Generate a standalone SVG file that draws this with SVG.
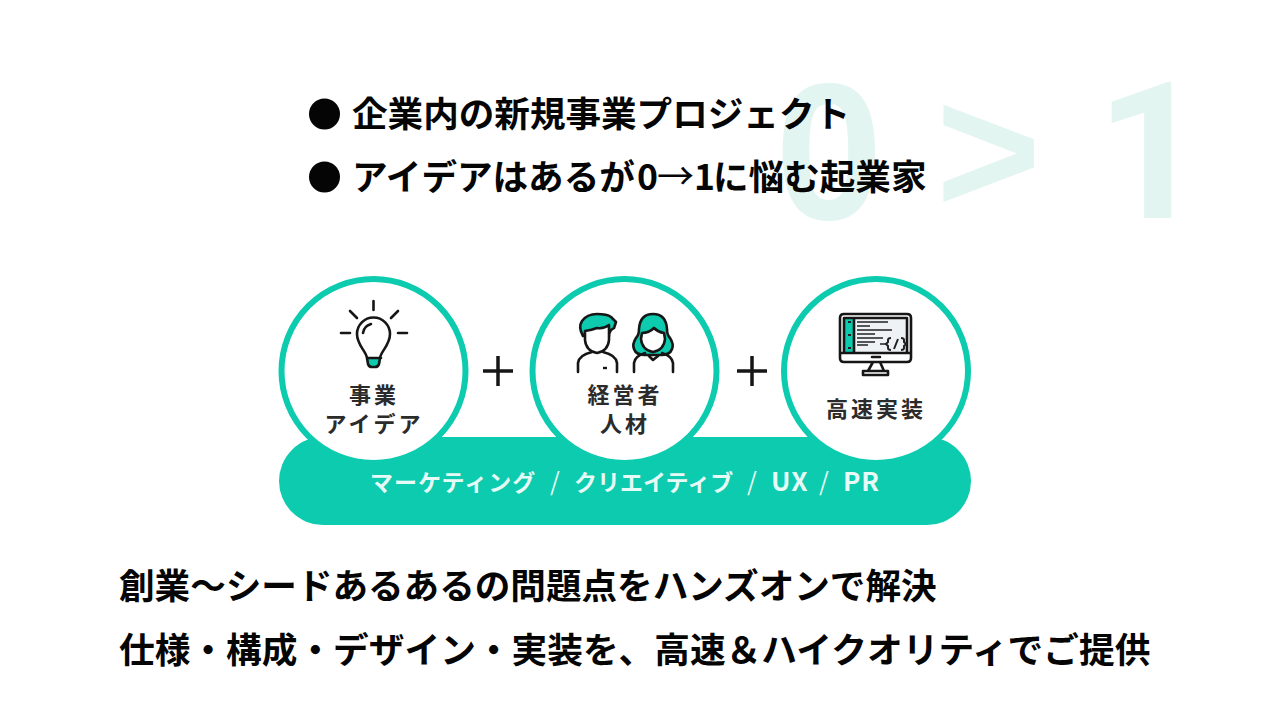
<svg xmlns="http://www.w3.org/2000/svg" width="1280" height="720" viewBox="0 0 1280 720">
<style>
text{font-family:"Noto Sans CJK JP","Noto Sans",sans-serif}
.h{font-size:35.600px;font-weight:700;fill:#050505}
.big{font-size:194px;font-weight:700;fill:#e3f5f1;font-family:"Liberation Sans",Arial,sans-serif}
.c{fill:#fff;stroke:#0ccbae;stroke-width:6}
.l{font-size:22px;font-weight:700;fill:#2b2b2b;text-anchor:middle;letter-spacing:3px}
.i{fill:none;stroke:#161616;stroke-width:2.600;stroke-linecap:round;stroke-linejoin:round}
.t{fill:#0ccbae}
.p{stroke:#161616;stroke-width:3.500;fill:none}
.b{font-size:23px;font-weight:700;fill:#e6faf6}
</style>
<rect width="1280" height="720" fill="#fff"/>
<g id="big"><text class="big" x="775" y="219">0</text><text class="big" x="936" y="213" style="font-size:180px">&gt;</text><text class="big" x="1096" y="218" style="font-family:Roboto,sans-serif;font-size:192px">1</text></g>
<g id="top-text">
<circle cx="324.500" cy="114" r="15.500" fill="#050505"/><circle cx="324.500" cy="177" r="15.500" fill="#050505"/>
<text class="h" x="352" y="127">企業内の新規事業プロジェクト</text>
<text class="h" x="352" y="190">アイデアはあるが<tspan x="637">0</tspan><tspan font-weight="400" font-size="37" x="657">→</tspan><tspan x="694">1</tspan><tspan x="713">に悩む起業家</tspan></text>
</g>
<g id="bar"><rect x="279" y="437" width="692" height="88" rx="44" class="t"/>
<text class="b" y="491"><tspan x="370" letter-spacing="1">マーケティング</tspan><tspan x="550" font-size="25" font-weight="400">/</tspan><tspan x="574" letter-spacing="0">クリエイティブ</tspan><tspan x="747" font-size="25" font-weight="400">/</tspan><tspan x="771" font-size="26" letter-spacing="1">UX</tspan><tspan x="819" font-size="25" font-weight="400">/</tspan><tspan x="843" font-size="26" letter-spacing="1">PR</tspan></text></g>
<g id="node-idea"><circle class="c" cx="373.500" cy="371" r="92"/>
<path class="t" d="M367 358h14l-1 6q-1 3-4 3h-4q-3 0-4-3z"/>
<path class="i" d="M367 358c-1-7-10-13-10-24a16.500 16.500 0 0 1 33 0c0 11-9 17-10 24l-1 6q-1 3-4 3h-3q-3 0-4-3zM367 358h14M363 333q1-7 8-9M373.500 301v9M350 311l7 7M398 311l-7 7M341 333h9M398 333h9"/>
<text class="l" x="374" y="403">事業</text><text class="l" x="374" y="432">アイデア</text></g>
<g id="node-people"><circle class="c" cx="624.500" cy="371" r="92"/>
<path class="t i" style="fill:#0ccbae" d="M583 336q-5-9-1-15 5-7 15-7 10 0 14 3l5 5-2 6-3 2-2 4v2h-24v-2z"/>
<path class="i" style="fill:#fff" d="M585 331q7-1 12-3 7 1 12-3v15q-1 11-12 13-11-2-12-13z"/>
<path class="i" d="M578 372v-9q1-8 14-11M617 372v-9q-1-8-14-11"/>
<path d="M603 368h4" stroke="#161616" stroke-width="2.400"/>
<path class="i" style="fill:#0ccbae" d="M653 314q-13 0-14 15 0 6-3 9-4 6-2 11 2 6 11 6h16q9 0 11-6 2-5-2-11-3-3-3-9-1-15-14-15z"/>
<path class="i" style="fill:#fff" d="M642 333q7 0 12-5 4 4 10 5l1 6q-1 11-12 13-11-2-12-13z"/>
<path class="i" d="M634 372v-9q1-7 11-10M673 372v-9q-1-7-11-10M649 356l4 4 5-4"/>
<text class="l" x="625" y="403">経営者</text><text class="l" x="625" y="432">人材</text></g>
<g id="node-code"><circle class="c" cx="876" cy="371" r="92"/>
<rect x="854" y="318" width="54" height="34" fill="#eef2f5"/>
<rect class="t" x="845" y="318" width="9" height="34"/>
<path class="i" d="M840 318q0-4 4-4h63q4 0 4 4v40q0 4-4 4h-63q-4 0-4-4zM840 353h71M844 318h63M844 318v35M907 318v35M854 318v35M873 362l-5 9M880 362l4 9M863 371h25v4h-25zM872 357h8" stroke-width="2.200"/>
<path d="M848 322h3M848 335h3M848 348h3" stroke="#222" stroke-width="2" fill="none"/>
<path d="M857 322h31M857 326h13M857 330h35M857 334h18M857 338h26M857 342h18M857 345h11M880 344h6" stroke="#222" stroke-width="1.500" fill="none"/>
<path d="M891 338q-3 0-3 2v2l-2 2 2 2v2q0 2 3 2M901 338q3 0 3 2v2l2 2-2 2v2q0 2-3 2M898 339l-4 10" stroke="#222" stroke-width="2" fill="none"/>
<text class="l" x="876" y="417">高速実装</text></g>
<g id="plus"><path class="p" d="M483 371h30M498 356v30M737 371h30M752 356v30"/></g>
<g id="bottom-text">
<text class="h" x="119" y="599">創業〜シードあるあるの問題点をハンズオンで解決</text>
<text class="h" x="119" y="663" style="font-size:35.700px">仕様・構成・デザイン・実装を、高速＆ハイクオリティでご提供</text>
</g>
</svg>
